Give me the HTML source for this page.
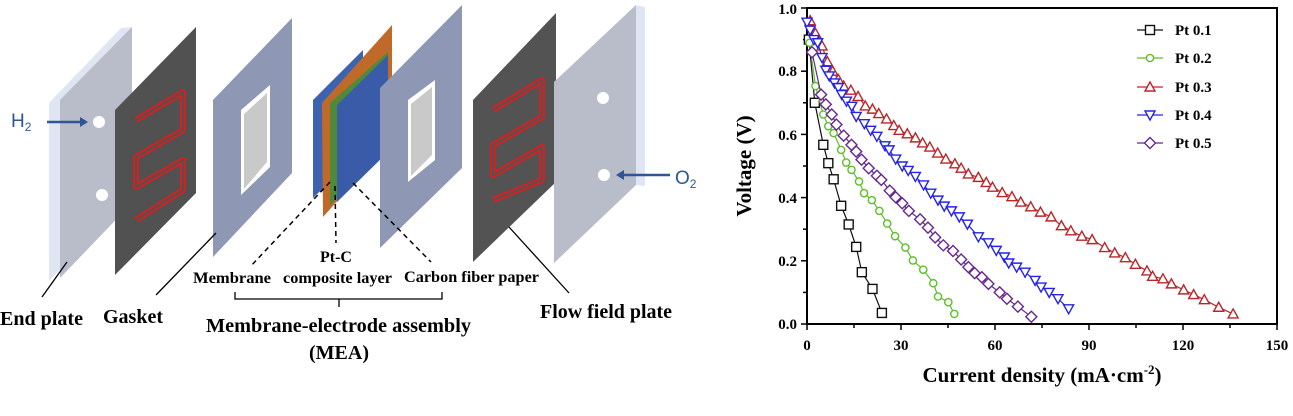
<!DOCTYPE html>
<html><head><meta charset="utf-8"><style>
html,body{margin:0;padding:0;background:#fff;}
svg{display:block;}
text{font-family:"Liberation Serif",serif;font-weight:bold;}
</style></head><body>
<svg width="1293" height="416" viewBox="0 0 1293 416" xmlns="http://www.w3.org/2000/svg">
<!-- LEFT DIAGRAM -->
<polygon points="49,103 121,28 132,27 132,203 121,206 49,281" fill="#dfe5f2"/>
<polygon points="60,100 132,27 132,203 60,278" fill="#b9bdc9"/>
<circle cx="99" cy="122" r="6" fill="#fff"/><circle cx="102" cy="195" r="6" fill="#fff"/>
<text x="11" y="127" style="font-family:'Liberation Sans',sans-serif;font-weight:normal" font-size="19" fill="#2f5597">H<tspan font-size="12" dy="4">2</tspan></text>
<line x1="47" y1="122" x2="82" y2="122" stroke="#2f5597" stroke-width="2.5"/>
<polygon points="88,122 80,117 80,127" fill="#2f5597"/>
<polygon points="115,110 196,27 196,193 115,275" fill="#515151"/>
<polyline points="136,120 183,92 183,130 136,157 136,187 183,160 183,190 136,220" fill="none" stroke="#d42020" stroke-width="6" stroke-linejoin="round"/>
<polyline points="136,120 183,92 183,130 136,157 136,187 183,160 183,190 136,220" fill="none" stroke="#515151" stroke-width="2" stroke-linejoin="round"/>
<polygon points="213,100 292,18 292,173 213,257" fill="#8e98b4"/>
<polygon points="241,110 270,85 270,167 241,195" fill="#fff"/>
<polygon points="244,114 267,93 267,162 244,189" fill="#c9c9c9"/>
<polygon points="313,100 363,50 363,150 313,198" fill="#3d63b0"/>
<polygon points="322,103 392,25 392,140 323,217" fill="#c06a2a"/>
<polygon points="330,103 388,52 388,150 330,205" fill="#4e8a3a"/>
<polygon points="337,105 388,55 388,152 337,202" fill="#3a5ca8"/>
<polygon points="380,88 462,5 462,168 380,248" fill="#8e98b4"/>
<polygon points="408,100 435,80 435,160 408,182" fill="#fff"/>
<polygon points="411,104 432,87 432,155 411,176" fill="#c9c9c9"/>
<polygon points="473,100 556,13 556,182 473,262" fill="#535353"/>
<polyline points="493,110 542,80 542,117 493,145 493,175 542,147 542,180 493,200" fill="none" stroke="#d42020" stroke-width="6" stroke-linejoin="round"/>
<polyline points="493,110 542,80 542,117 493,145 493,175 542,147 542,180 493,200" fill="none" stroke="#535353" stroke-width="2" stroke-linejoin="round"/>
<polygon points="554,82 636,5 645,7 645,186 636,185 554,263" fill="#dfe5f2"/>
<polygon points="554,82 636,5 636,185 554,263" fill="#b9bdc9"/>
<circle cx="603" cy="98" r="6" fill="#fff"/><circle cx="604" cy="175" r="6" fill="#fff"/>
<line x1="670" y1="175" x2="623" y2="175" stroke="#2f5597" stroke-width="2.5"/>
<polygon points="616,175 624,170 624,180" fill="#2f5597"/>
<text x="675" y="184" style="font-family:'Liberation Sans',sans-serif;font-weight:normal" font-size="19" fill="#2f5597">O<tspan font-size="12" dy="4">2</tspan></text>
<g stroke="#000" stroke-width="1.5" stroke-dasharray="5,4" fill="none">
<line x1="330" y1="182" x2="250" y2="267"/>
<line x1="335" y1="186" x2="336" y2="243"/>
<line x1="353" y1="183" x2="431" y2="262"/>
</g>
<g stroke="#000" stroke-width="1.3" fill="none">
<line x1="67" y1="262" x2="42" y2="297"/>
<line x1="216" y1="233" x2="156" y2="295"/>
<line x1="509" y1="227" x2="569" y2="293"/>
<polyline points="235,292 235,299 442,299 442,292"/>
<line x1="339" y1="299" x2="339" y2="307"/>
</g>
<g lengthAdjust="spacingAndGlyphs">
<text x="0" y="325" font-size="20" textLength="83" lengthAdjust="spacingAndGlyphs">End plate</text>
<text x="103" y="323" font-size="20" textLength="60" lengthAdjust="spacingAndGlyphs">Gasket</text>
<text x="193" y="283" font-size="16" textLength="78" lengthAdjust="spacingAndGlyphs">Membrane</text>
<text x="336" y="262" font-size="16" text-anchor="middle">Pt-C</text>
<text x="283" y="283" font-size="16" textLength="109" lengthAdjust="spacingAndGlyphs">composite layer</text>
<text x="404" y="282" font-size="16" textLength="135" lengthAdjust="spacingAndGlyphs">Carbon fiber paper</text>
<text x="206" y="332" font-size="20" textLength="265" lengthAdjust="spacingAndGlyphs">Membrane-electrode assembly</text>
<text x="339" y="359" font-size="20" text-anchor="middle">(MEA)</text>
<text x="540" y="318" font-size="20" textLength="132" lengthAdjust="spacingAndGlyphs">Flow field plate</text>
</g>

<!-- CHART -->
<g id="chart">
<rect x="807" y="8" width="470" height="316" fill="none" stroke="#000" stroke-width="2"/>
<g stroke="#000" stroke-width="1.5">
<line x1="807" y1="324" x2="807" y2="330"/><line x1="901" y1="324" x2="901" y2="330"/><line x1="995" y1="324" x2="995" y2="330"/><line x1="1089" y1="324" x2="1089" y2="330"/><line x1="1183" y1="324" x2="1183" y2="330"/><line x1="1277" y1="324" x2="1277" y2="330"/>
<line x1="854" y1="324" x2="854" y2="328"/><line x1="948" y1="324" x2="948" y2="328"/><line x1="1042" y1="324" x2="1042" y2="328"/><line x1="1136" y1="324" x2="1136" y2="328"/><line x1="1230" y1="324" x2="1230" y2="328"/>
<line x1="801" y1="324" x2="807" y2="324"/><line x1="801" y1="260.8" x2="807" y2="260.8"/><line x1="801" y1="197.6" x2="807" y2="197.6"/><line x1="801" y1="134.4" x2="807" y2="134.4"/><line x1="801" y1="71.2" x2="807" y2="71.2"/><line x1="801" y1="8" x2="807" y2="8"/>
<line x1="803" y1="292.4" x2="807" y2="292.4"/><line x1="803" y1="229.2" x2="807" y2="229.2"/><line x1="803" y1="166" x2="807" y2="166"/><line x1="803" y1="102.8" x2="807" y2="102.8"/><line x1="803" y1="39.6" x2="807" y2="39.6"/>
</g>
<g font-size="15" text-anchor="end">
<text x="797" y="329">0.0</text><text x="797" y="266">0.2</text><text x="797" y="203">0.4</text><text x="797" y="140">0.6</text><text x="797" y="76">0.8</text><text x="797" y="14">1.0</text>
</g>
<g font-size="15" text-anchor="middle">
<text x="807" y="350">0</text><text x="901" y="350">30</text><text x="995" y="350">60</text><text x="1089" y="350">90</text><text x="1183" y="350">120</text><text x="1277" y="350">150</text>
</g>
<text x="1042" y="382" font-size="21" text-anchor="middle">Current density (mA·cm<tspan font-size="13" dy="-8">-2</tspan><tspan dy="8">)</tspan></text>
<text transform="translate(751,166) rotate(-90)" font-size="21" text-anchor="middle">Voltage (V)</text>
<g id="series"></g>
<g font-size="15">
<text x="1175" y="35">Pt 0.1</text><text x="1175" y="63">Pt 0.2</text><text x="1175" y="92">Pt 0.3</text><text x="1175" y="120">Pt 0.4</text><text x="1175" y="148">Pt 0.5</text>
</g>
</g>
</svg>
<script>
(function(){
var X=function(u){return 807+u*470/150;},Y=function(v){return 324-v*316;};
var S=[
{c:"#111",m:"sq",d:[[0.6,0.9],[2.5,0.70],[5.2,0.567],[6.8,0.509],[8.5,0.458],[10.9,0.374],[13.3,0.315],[15.7,0.244],[17.5,0.164],[20.9,0.111],[23.9,0.035]]},
{c:"#5cbf2a",m:"ci",d:[[0.8,0.89],[2.7,0.753],[5.2,0.663],[6.8,0.626],[8.5,0.604],[10.9,0.551],[12.5,0.511],[14.2,0.488],[16.6,0.451],[18.2,0.414],[20.7,0.392],[23.1,0.358],[25.6,0.318],[28.1,0.278],[31.4,0.242],[33.8,0.201],[37.1,0.172],[40.3,0.129],[41.8,0.087],[45.1,0.069],[47,0.032]]},
{c:"#b8262a",m:"tu",d:[[1,0.96],[2.7,0.92],[4.8,0.88],[6.5,0.83],[8.2,0.80],[10,0.774],[11.7,0.753],[14,0.74],[16.3,0.72],[18.6,0.69],[20.9,0.68],[22.9,0.666],[25.4,0.649],[27.7,0.628],[29.4,0.613],[32,0.602],[34.6,0.589],[36.9,0.573],[39.2,0.56],[41.7,0.541],[44.3,0.522],[47.2,0.507],[49.2,0.493],[51.5,0.475],[54.7,0.464],[57.2,0.448],[59.2,0.433],[62.3,0.416],[65.4,0.403],[68.2,0.386],[71.4,0.371],[74.5,0.354],[77.9,0.339],[81.2,0.311],[84.2,0.295],[87.7,0.278],[91,0.267],[95,0.242],[98.2,0.225],[101.6,0.21],[104.8,0.189],[108.5,0.168],[110.3,0.151],[113.6,0.143],[116.3,0.127],[120.2,0.108],[123.4,0.093],[126.8,0.077],[131.4,0.053],[136,0.032]]},
{c:"#2323e6",m:"td",d:[[0,0.955],[1,0.93],[2.2,0.9],[3.4,0.89],[4.8,0.843],[6,0.803],[7.1,0.785],[8.8,0.763],[10,0.748],[11.1,0.726],[12.6,0.705],[14.3,0.689],[15.7,0.657],[18.3,0.634],[20.3,0.613],[22.3,0.594],[24.9,0.564],[26.2,0.551],[28.3,0.522],[30.4,0.5],[32.3,0.486],[34.6,0.467],[37.2,0.44],[39.5,0.414],[41.8,0.392],[43.8,0.373],[46.1,0.358],[48.6,0.339],[51.2,0.316],[54.7,0.276],[57.9,0.257],[60.4,0.233],[63,0.212],[64.4,0.193],[66.9,0.18],[69.6,0.164],[72.8,0.138],[74.7,0.117],[77.3,0.1],[80.1,0.08],[83.5,0.048]]},
{c:"#66288f",m:"di",d:[[1.6,0.86],[4.5,0.726],[6,0.695],[7.9,0.663],[9.4,0.631],[11.7,0.596],[14.2,0.567],[15.7,0.546],[17.4,0.52],[19.7,0.493],[22.3,0.469],[23.7,0.456],[26.4,0.422],[28.3,0.401],[30.4,0.382],[32.5,0.358],[36.1,0.331],[38.6,0.305],[40.9,0.274],[43.5,0.249],[46.6,0.231],[49.2,0.204],[51.5,0.18],[53.5,0.161],[55.8,0.148],[57.9,0.127],[61.5,0.1],[63.8,0.08],[67.3,0.055],[71.6,0.023]]}
];
function mk(m,x,y,c){
 var s='fill="#fff" stroke="'+c+'" stroke-width="1.4"';
 if(m=="sq")return '<rect x="'+(x-4.5)+'" y="'+(y-4.5)+'" width="9" height="9" '+s+'/>';
 if(m=="ci")return '<circle cx="'+x+'" cy="'+y+'" r="3.6" '+s+'/>';
 if(m=="tu")return '<polygon points="'+x+','+(y-5)+' '+(x+5)+','+(y+4)+' '+(x-5)+','+(y+4)+'" '+s+'/>';
 if(m=="td")return '<polygon points="'+x+','+(y+5)+' '+(x+5)+','+(y-4)+' '+(x-5)+','+(y-4)+'" '+s+'/>';
 return '<polygon points="'+x+','+(y-5.5)+' '+(x+5.5)+','+y+' '+x+','+(y+5.5)+' '+(x-5.5)+','+y+'" '+s+'/>';
}
var h='',ly=[30,58,87,115,143];
S.forEach(function(o,i){
 h+='<polyline fill="none" stroke="'+o.c+'" stroke-width="1.2" points="'+o.d.map(function(p){return X(p[0]).toFixed(1)+','+Y(p[1]).toFixed(1);}).join(' ')+'"/>';
 o.d.forEach(function(p){h+=mk(o.m,X(p[0]),Y(p[1]),o.c);});
 h+='<line x1="1137" y1="'+ly[i]+'" x2="1163" y2="'+ly[i]+'" stroke="'+o.c+'" stroke-width="1.3"/>'+mk(o.m,1150,ly[i],o.c);
});
document.getElementById('series').innerHTML=h;
})();
</script>
</body></html>
